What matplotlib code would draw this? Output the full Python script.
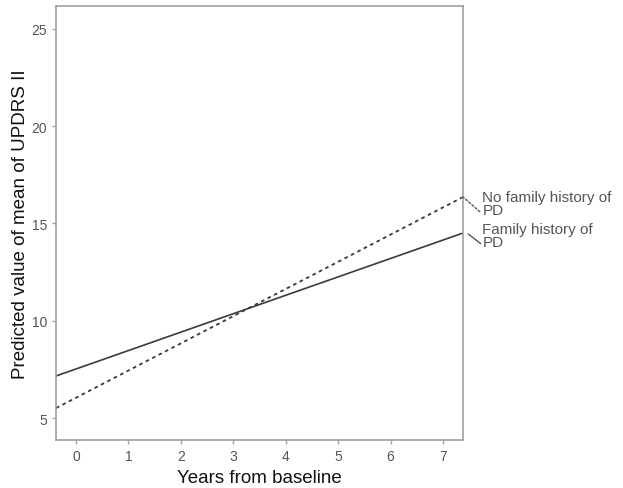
import matplotlib
matplotlib.use("Agg")
import matplotlib.pyplot as plt
import numpy as np

plt.rcParams['font.family'] = ['Liberation Sans', 'DejaVu Sans']

years = [-0.38, 7.38]
no_family = [5.51, 16.36]
family = [7.16, 14.51]
series_labels = ["No family history of\nPD", "Family history of\nPD"]
xticks = [0, 1, 2, 3, 4, 5, 6, 7]
yticks = [5, 10, 15, 20, 25]

fig = plt.figure(figsize=(6.23, 4.89), dpi=100)
ax = fig.add_axes([56/623, 1-441/489, (463-56)/623, (441-7)/489])

lc = '#3a3a3a'
ax.plot(years, no_family, color=lc, lw=1.3, ls=(0, (2, 2)))
ax.plot(years, family, color=lc, lw=1.2, ls='-')

ax.set_xlim(-0.38, 7.38)
ax.set_ylim(3.87, 26.18)
ax.set_xticks(xticks)
ax.set_yticks(yticks)
for s in ax.spines.values():
    s.set_color('#a0a0a0')
    s.set_linewidth(1.2)
ax.tick_params(colors='#a0a0a0', labelcolor='#555555', labelsize=10, length=3, width=1)

ax.set_xlabel("Years from baseline", fontsize=13.5, color='#111111', labelpad=4)
ax.set_ylabel("Predicted value of mean of UPDRS II", fontsize=13.5, color='#111111', labelpad=2)

# right-hand labels with connectors
ax.annotate("", xy=(7.38, no_family[1]), xytext=(7.70, no_family[1] - 0.75),
            xycoords='data', textcoords='data', annotation_clip=False,
            arrowprops=dict(arrowstyle='-', color='#555555', lw=1, ls=(0, (1.5, 1.5)),
                            shrinkA=0, shrinkB=0))
ax.annotate("", xy=(7.48, family[1] - 0.05), xytext=(7.72, family[1] - 0.55),
            xycoords='data', textcoords='data', annotation_clip=False,
            arrowprops=dict(arrowstyle='-', color='#555555', lw=1, shrinkA=0, shrinkB=0))
ax.text(7.75, no_family[1] + 0.35, series_labels[0], fontsize=11, color='#555555',
        va='top', ha='left', linespacing=0.85, clip_on=False)
ax.text(7.75, family[1] + 0.55, series_labels[1], fontsize=11, color='#555555',
        va='top', ha='left', linespacing=0.85, clip_on=False)

fig.savefig("out.png", dpi=100)
